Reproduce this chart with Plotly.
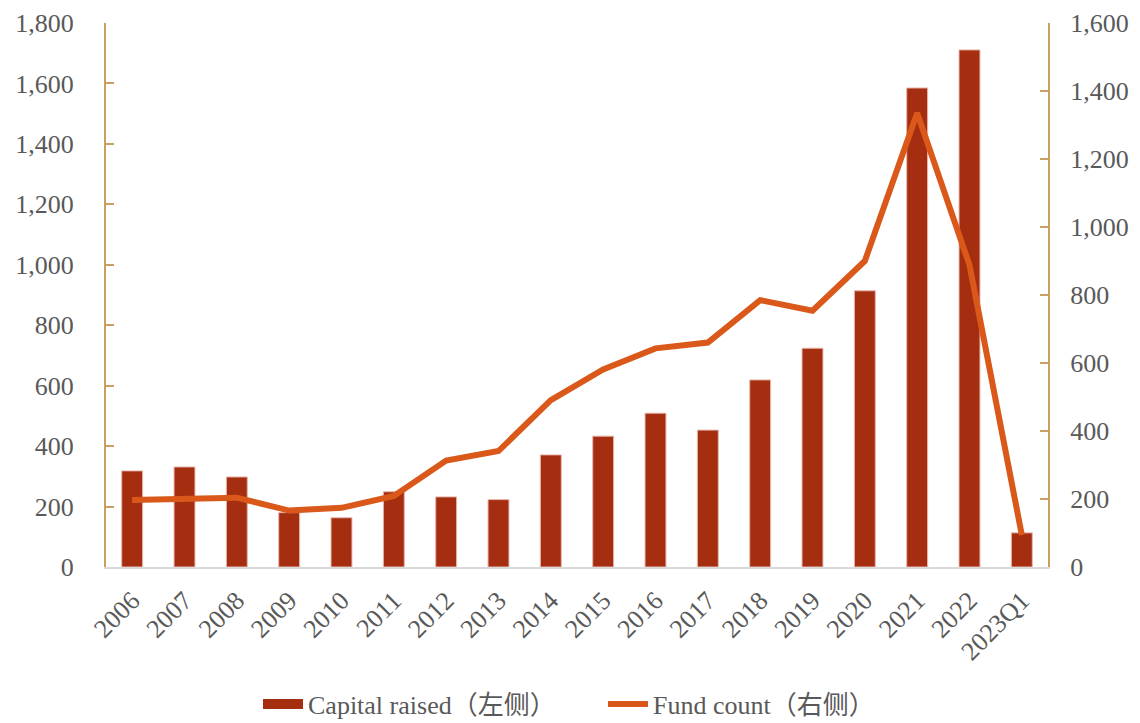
import plotly.graph_objects as go

categories = ["2006", "2007", "2008", "2009", "2010", "2011", "2012", "2013", "2014",
              "2015", "2016", "2017", "2018", "2019", "2020", "2021", "2022", "2023Q1"]
capital_raised = [318, 331, 298, 180, 163, 249, 232, 223, 371,
                  433, 509, 453, 619, 724, 914, 1585, 1711, 113]
fund_count = [197, 199, 204, 166, 174, 209, 313, 341, 491,
              581, 643, 660, 785, 754, 900, 1335, 888, 94]

left_ticks = [0, 200, 400, 600, 800, 1000, 1200, 1400, 1600, 1800]
right_ticks = [0, 200, 400, 600, 800, 1000, 1200, 1400, 1600]

FONT = "Liberation Serif, Times New Roman, Noto Sans CJK SC, serif"
AXIS_COLOR = "#C9A060"
TEXT_COLOR = "#595959"
BAR_COLOR = "#A52E10"
LINE_COLOR = "#D9581A"
FS = 26

fig = go.Figure()
fig.add_trace(go.Bar(
    x=categories, y=capital_raised, name="Capital raised（左侧）",
    marker=dict(color=BAR_COLOR, line=dict(color="#E8B8B0", width=1)),
    width=0.4, yaxis="y", showlegend=False,
))
# legend proxy (wide rectangle swatch like the reference)
fig.add_trace(go.Scatter(
    x=[None], y=[None], name="Capital raised（左侧）",
    mode="lines", line=dict(color=BAR_COLOR, width=12),
    yaxis="y", showlegend=True,
))
fig.add_trace(go.Scatter(
    x=categories, y=fund_count, name="Fund count（右侧）",
    mode="lines", line=dict(color=LINE_COLOR, width=6),
    yaxis="y2",
))

fig.update_layout(
    width=1140, height=723,
    paper_bgcolor="white", plot_bgcolor="white",
    margin=dict(l=98, r=100, t=15, b=164),
    font=dict(family=FONT, size=FS, color=TEXT_COLOR),
    xaxis=dict(
        type="category", tickangle=-45, showgrid=False, automargin=False,
        showline=True, linecolor="#D9D9D9", linewidth=2,
        ticks="", ticklabelstandoff=6, tickfont=dict(size=FS, color=TEXT_COLOR),
    ),
    yaxis=dict(
        range=[0, 1800], tickvals=left_ticks, automargin=False,
        ticktext=[f"{v:,}" for v in left_ticks],
        showgrid=False, zeroline=False,
        showline=True, linecolor=AXIS_COLOR, linewidth=2,
        ticks="inside", ticklen=8, tickcolor=AXIS_COLOR, tickwidth=2,
        ticklabelstandoff=25,
        tickfont=dict(size=FS, color=TEXT_COLOR),
    ),
    yaxis2=dict(
        range=[0, 1600], tickvals=right_ticks, automargin=False,
        ticktext=[f"{v:,}" for v in right_ticks],
        overlaying="y", side="right",
        showgrid=False, zeroline=False,
        showline=True, linecolor=AXIS_COLOR, linewidth=2,
        ticks="inside", ticklen=8, tickcolor=AXIS_COLOR, tickwidth=2,
        ticklabelstandoff=15,
        tickfont=dict(size=FS, color=TEXT_COLOR),
    ),
    legend=dict(
        orientation="h", x=0.5 + 25 / 1140, xanchor="center", xref="container",
        y=1 - 696 / 723, yanchor="middle", yref="container",
        font=dict(size=FS, color=TEXT_COLOR),
        itemwidth=40, entrywidth=290,
    ),
    showlegend=True,
)

fig.write_html("out.html")
